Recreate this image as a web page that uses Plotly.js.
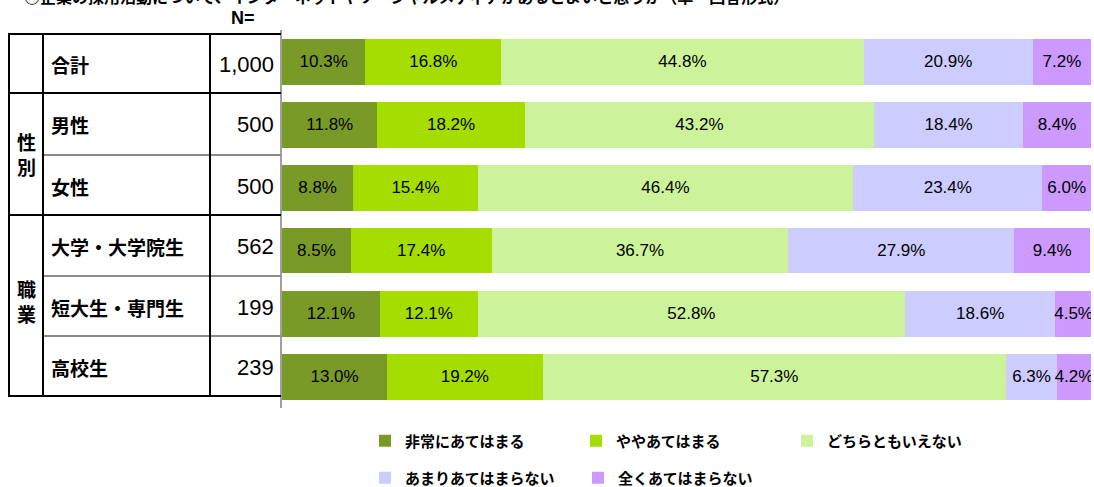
<!DOCTYPE html>
<html>
<head>
<meta charset="utf-8">
<script src="https://cdn.plot.ly/plotly-3.0.1.min.js"></script>
<style>html,body{margin:0;padding:0;background:#fff;overflow:hidden;}#chart{width:1094px;height:487px;}</style>
</head>
<body>
<div id="chart"></div>
<script>
// ---- data ----
const categories = ["合計", "男性", "女性", "大学・大学院生", "短大生・専門生", "高校生"];
const nValues = ["1,000", "500", "500", "562", "199", "239"];
const seriesNames = ["非常にあてはまる", "ややあてはまる", "どちらともいえない", "あまりあてはまらない", "全くあてはまらない"];
const s1 = [10.3, 11.8, 8.8, 8.5, 12.1, 13.0];
const s2 = [16.8, 18.2, 15.4, 17.4, 12.1, 19.2];
const s3 = [44.8, 43.2, 46.4, 36.7, 52.8, 57.3];
const s4 = [20.9, 18.4, 23.4, 27.9, 18.6, 6.3];
const s5 = [7.2, 8.4, 6.0, 9.4, 4.5, 4.2];
const groupLabels = ["性<br>別", "職<br>業"];
const titleText = "○企業の採用活動について、インターネットやソーシャルメディアがあるとよいと思うか（単一回答形式）";

// ---- style ----
const colors = ["#7A9A27", "#A6DD00", "#CCF39A", "#CCCCFF", "#CC99FF"];
const seriesValues = [s1, s2, s3, s4, s5];

// plot-area geometry (pixels)
const W = 1094, H = 487;
const L = 282, R = 3, T = 30, B = 79;
const pw = W - L - R, ph = H - T - B;
const px = x => (x - L) / pw;
const py = y => (H - B - y) / ph;

const traces = seriesNames.map((name, i) => ({
  type: "bar",
  orientation: "h",
  name: name,
  y: categories,
  x: seriesValues[i],
  marker: {color: colors[i], line: {width: 0}},
  text: seriesValues[i].map(v => v.toFixed(1) + "%"),
  texttemplate: "%{text}",
  textposition: "inside",
  insidetextanchor: "middle",
  textangle: 0,
  constraintext: "none",
  textfont: {family: "Liberation Sans, Arial, sans-serif", size: 17, color: "#000"},
  hoverinfo: "skip",
  legend: i < 3 ? "legend" : "legend2"
}));

// table lines
const shapes = [];
function hline(y, x0, x1, color, w) {
  shapes.push({type: "line", xref: "paper", yref: "paper", x0: px(x0), x1: px(x1), y0: py(y), y1: py(y),
    line: {color: color, width: w}});
}
function vline(x, y0, y1, color, w) {
  shapes.push({type: "line", xref: "paper", yref: "paper", x0: px(x), x1: px(x), y0: py(y0), y1: py(y1),
    line: {color: color, width: w}});
}
hline(34, 8, 281, "#000", 2);
hline(93, 8, 281, "#000", 2);
hline(215, 8, 281, "#000", 2);
hline(396, 8, 281, "#000", 2);
hline(155, 43, 281, "#8a8a8a", 2);
hline(276, 43, 281, "#8a8a8a", 2);
hline(336, 43, 281, "#8a8a8a", 2);
vline(9, 33, 397, "#000", 2);
vline(43, 33, 397, "#000", 2);
vline(210, 33, 397, "#000", 2);

const rowCenters = [64, 125, 186, 246, 307, 367];
const annotations = [];
const cjk = "Noto Sans CJK JP, sans-serif";
categories.forEach((c, i) => {
  annotations.push({xref: "paper", yref: "paper", x: px(49), y: py(rowCenters[i]), xanchor: "left", yanchor: "middle",
    text: c, showarrow: false, font: {family: cjk, size: 19, color: "#000", weight: "bold"}});
  annotations.push({xref: "paper", yref: "paper", x: px(276), y: py(rowCenters[i]), xanchor: "right", yanchor: "middle",
    text: nValues[i], showarrow: false, font: {family: "Liberation Sans, Arial, sans-serif", size: 22, color: "#000"}});
});
annotations.push({xref: "paper", yref: "paper", x: px(26), y: py(154), xanchor: "center", yanchor: "middle",
  text: groupLabels[0], showarrow: false, font: {family: cjk, size: 19, color: "#000", weight: "bold"}});
annotations.push({xref: "paper", yref: "paper", x: px(26), y: py(301), xanchor: "center", yanchor: "middle",
  text: groupLabels[1], showarrow: false, font: {family: cjk, size: 19, color: "#000", weight: "bold"}});
annotations.push({xref: "paper", yref: "paper", x: px(243), y: py(18), xanchor: "center", yanchor: "middle",
  text: "N=", showarrow: false, font: {family: "Liberation Sans, Arial, sans-serif", size: 18, color: "#000", weight: "bold"}});
annotations.push({xref: "paper", yref: "paper", x: px(22), y: py(-4), xanchor: "left", yanchor: "middle",
  text: titleText, showarrow: false, font: {family: cjk, size: 16, color: "#000", weight: "bold"}});

const legendFont = {family: cjk, size: 15, color: "#000", weight: "bold"};
const layout = {
  width: W, height: H,
  margin: {l: L, r: R, t: T, b: B, pad: 0, autoexpand: false},
  paper_bgcolor: "#fff", plot_bgcolor: "#fff",
  barmode: "stack",
  bargap: 0.27,
  showlegend: true,
  xaxis: {range: [0, 100], visible: false, fixedrange: true},
  yaxis: {type: "category", categoryorder: "array", categoryarray: categories, autorange: "reversed",
    showticklabels: false, ticks: "", showgrid: false, zeroline: false,
    showline: true, linecolor: "#a0a0a0", linewidth: 2, fixedrange: true},
  legend: {orientation: "h", x: px(365), xanchor: "left", y: py(441), yanchor: "middle",
    entrywidth: 166, traceorder: "normal", font: legendFont, bgcolor: "rgba(0,0,0,0)"},
  legend2: {orientation: "h", x: px(365), xanchor: "left", y: py(478), yanchor: "middle",
    entrywidth: 168, traceorder: "normal", font: legendFont, bgcolor: "rgba(0,0,0,0)"},
  shapes: shapes,
  annotations: annotations
};

Plotly.newPlot("chart", traces, layout, {displayModeBar: false, staticPlot: true});
</script>
</body>
</html>
